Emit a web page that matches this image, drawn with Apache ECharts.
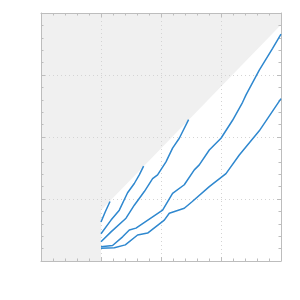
<!DOCTYPE html>
<html><head><meta charset="utf-8">
<script src="https://cdn.jsdelivr.net/npm/echarts@6/dist/echarts.min.js"></script>
<style>html,body{margin:0;padding:0;background:#fff}#c{width:300px;height:300px}</style>
</head><body><div id="c"></div>
<script>
// shaded (excluded) region boundary
var shadeX = [0, 1, 1, 4];
var shadeY = [0, 0, 0.82, 3.81];
// curves
var aX = [1.0, 1.07, 1.15];
var aY = [0.63, 0.79, 0.96];
var bX = [1.0, 1.167, 1.305, 1.443, 1.555, 1.638, 1.71];
var bY = [0.44, 0.66, 0.82, 1.10, 1.25, 1.39, 1.53];
var cX = [1.0, 1.167, 1.417, 1.555, 1.722, 1.86, 1.943, 2.083, 2.193, 2.305, 2.46];
var cY = [0.31, 0.47, 0.69, 0.90, 1.12, 1.33, 1.39, 1.60, 1.82, 1.98, 2.28];
var dX = [1.0, 1.193, 1.36, 1.472, 1.583, 2.027, 2.193, 2.388, 2.555, 2.638, 2.805, 3.0, 3.193, 3.36, 3.417, 3.638, 3.86, 4.0];
var dY = [0.23, 0.25, 0.39, 0.50, 0.53, 0.82, 1.09, 1.23, 1.47, 1.55, 1.79, 1.98, 2.27, 2.56, 2.68, 3.08, 3.43, 3.66];
var eX = [1.0, 1.222, 1.405, 1.61, 1.777, 2.055, 2.138, 2.388, 2.522, 2.805, 3.083, 3.305, 3.638, 4.0];
var eY = [0.205, 0.215, 0.26, 0.42, 0.45, 0.66, 0.77, 0.85, 0.96, 1.20, 1.41, 1.71, 2.10, 2.62];

function pts(xs, ys){ return xs.map(function(x,i){ return [x, ys[i]]; }); }
var lineColor = '#2f88cf';
function curve(xs, ys){
  return {type:'line', data:pts(xs,ys), showSymbol:false, symbol:'none', xAxisIndex:0, yAxisIndex:0,
    lineStyle:{color:lineColor, width:1.5}, z:5, silent:true};
}
var axColor = '#bdbdbd';
function xa(pos, grid){
  return {type:'value', min:0, max:4, interval:1, position:pos, z:3,
    axisLine:{show:true, onZero:false, lineStyle:{color:axColor, width:1}},
    axisTick:{show:true, inside:true, length:4, lineStyle:{color:axColor}},
    minorTick:{show:true, splitNumber:5, length:2.5, lineStyle:{color:axColor}},
    axisLabel:{show:false},
    splitLine:{show:grid, lineStyle:{color:'#d4d4d4', type:[1,3], width:1}}};
}
var chart = echarts.init(document.getElementById('c'), null, {renderer:'canvas'});
chart.setOption({
  animation:false,
  backgroundColor:'#ffffff',
  grid:{left:41, top:13, width:240, height:248, containLabel:false},
  xAxis:[xa('bottom', true), xa('top', false)],
  yAxis:[xa('left', true), xa('right', false)],
  series:[
    {type:'line', data:pts(shadeX, shadeY), showSymbol:false, symbol:'none',
     lineStyle:{width:0, opacity:0}, areaStyle:{color:'#f0f0f0', opacity:1, origin:'end'}, z:1, silent:true},
    curve(aX,aY), curve(bX,bY), curve(cX,cY), curve(dX,dY), curve(eX,eY)
  ]
});
</script></body></html>
